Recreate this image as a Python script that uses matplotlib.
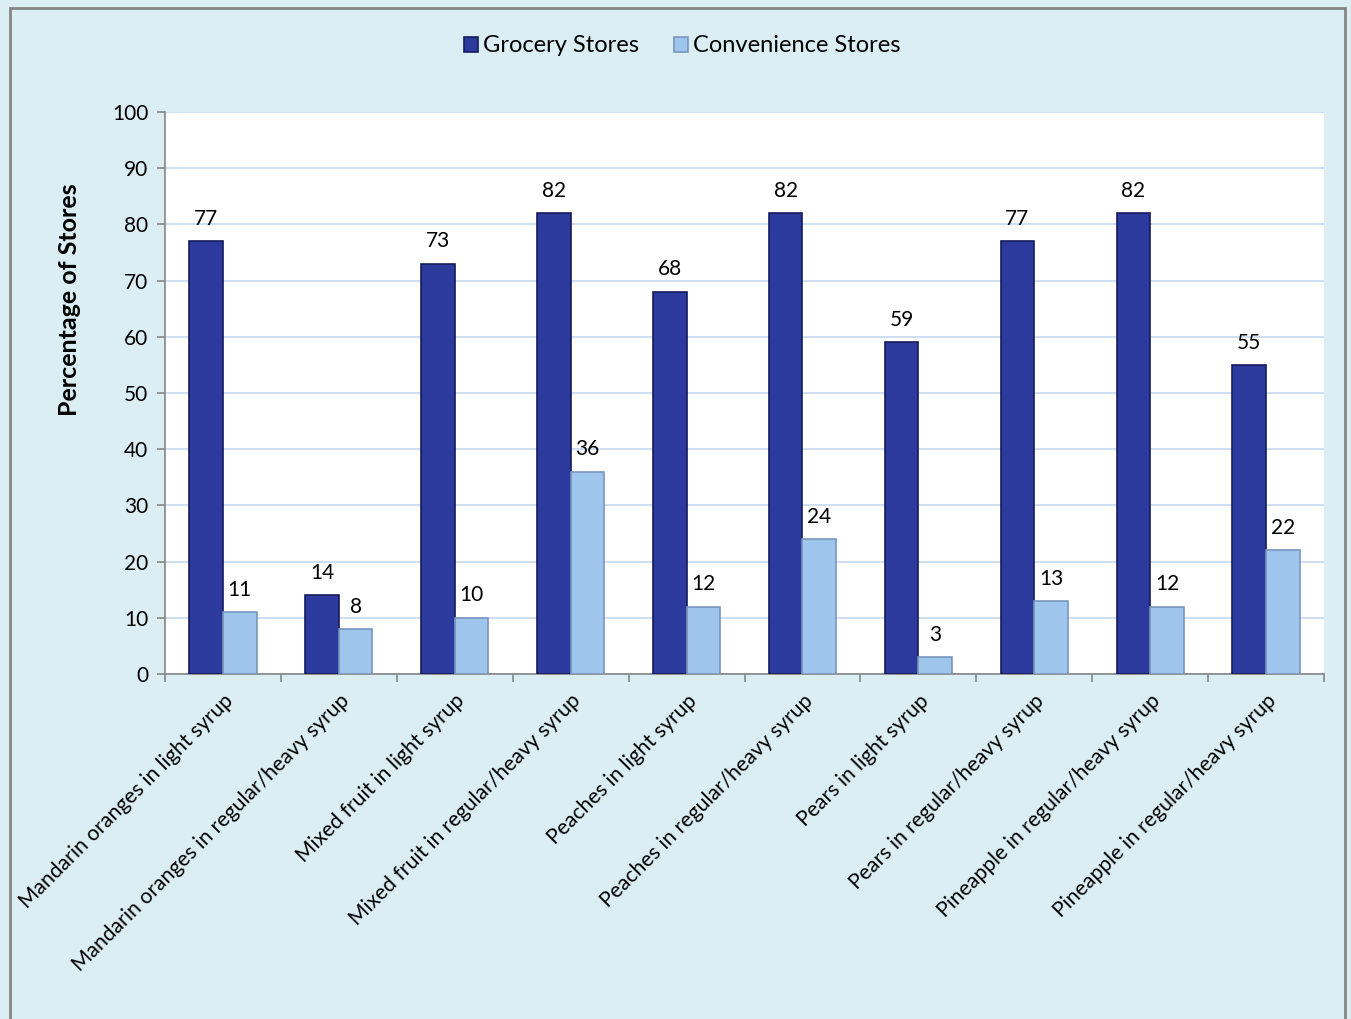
import matplotlib
matplotlib.use("Agg")
import matplotlib.pyplot as plt
import numpy as np
from matplotlib.patches import Rectangle

categories = [
    "Mandarin oranges in light syrup",
    "Mandarin oranges in regular/heavy syrup",
    "Mixed fruit in light syrup",
    "Mixed fruit in regular/heavy syrup",
    "Peaches in light syrup",
    "Peaches in regular/heavy syrup",
    "Pears in light syrup",
    "Pears in regular/heavy syrup",
    "Pineapple in regular/heavy syrup",
    "Pineapple in regular/heavy syrup",
]
grocery = [77, 14, 73, 82, 68, 82, 59, 77, 82, 55]
convenience = [11, 8, 10, 36, 12, 24, 3, 13, 12, 22]
series_names = ["Grocery Stores", "Convenience Stores"]
y_ticks = list(range(0, 101, 10))

plt.rcParams['font.family'] = ['Lato', 'DejaVu Sans']

W, H = 1351, 1019
fig = plt.figure(figsize=(W / 100, H / 100), dpi=100)
fig.patch.set_facecolor("#DBEEF4")
# outer border
fig.add_artist(Rectangle((10 / W, -0.01), (1345 - 10) / W, 1 - 8 / H + 0.01,
                         transform=fig.transFigure, fill=False,
                         edgecolor="#868686", linewidth=2))

ax = fig.add_axes([165 / W, 1 - 674 / H, (1324 - 165) / W, (674 - 112) / H])
ax.set_facecolor("white")

x = np.arange(len(categories))
bw = 0.29
dark = "#2B3A9C"
light = "#9EC5EC"
b1 = ax.bar(x - bw / 2, grocery, bw, color=dark, edgecolor="#151C5A", linewidth=1.2,
            label=series_names[0], zorder=3)
b2 = ax.bar(x + bw / 2, convenience, bw, color=light, edgecolor="#7896BE", linewidth=1.2,
            label=series_names[1], zorder=3)

for rect, v in zip(b1, grocery):
    ax.text(rect.get_x() + rect.get_width() / 2, v + 2.2, str(v), ha="center", va="bottom",
            fontsize=15, color="black")
for rect, v in zip(b2, convenience):
    ax.text(rect.get_x() + rect.get_width() / 2, v + 2.2, str(v), ha="center", va="bottom",
            fontsize=15, color="black")

ax.set_xlim(-0.5, len(categories) - 0.5)
ax.set_ylim(0, 100)
ax.set_yticks(y_ticks)
ax.set_yticklabels([str(t) for t in y_ticks], fontsize=15)
ax.yaxis.grid(True, color="#C6D9F1", linewidth=1.2, zorder=0)
ax.set_axisbelow(True)

ax.set_xticks(np.arange(-0.5, len(categories), 1.0))
ax.set_xticklabels([])
ax.set_xticks(x, minor=True)
ax.set_xticklabels(categories, minor=True, rotation=45, ha="right", va="top",
                   rotation_mode="anchor", fontsize=15.2)
ax.tick_params(axis="x", which="minor", length=0, pad=12)
ax.tick_params(axis="x", which="major", length=6, color="#868686", width=1.2, direction="out")
ax.tick_params(axis="y", length=6, color="#868686", width=1.2, direction="out", pad=6)

for s in ["top", "right"]:
    ax.spines[s].set_visible(False)
for s in ["left", "bottom"]:
    ax.spines[s].set_color("#868686")
    ax.spines[s].set_linewidth(1.2)

ax.set_ylabel("Percentage of Stores", fontsize=18, fontweight="bold")
ax.yaxis.set_label_coords((81 - 165) / 1159, (674 - 300) / 562)

leg = fig.legend(handles=[b1, b2], labels=series_names, loc="center",
                 bbox_to_anchor=(0.505, 1 - 46 / H), ncol=2, frameon=False,
                 fontsize=17, handlelength=0.6, handleheight=0.6, handletextpad=0.2,
                 columnspacing=1.5)

fig.savefig("out.png", dpi=100, facecolor=fig.get_facecolor())
